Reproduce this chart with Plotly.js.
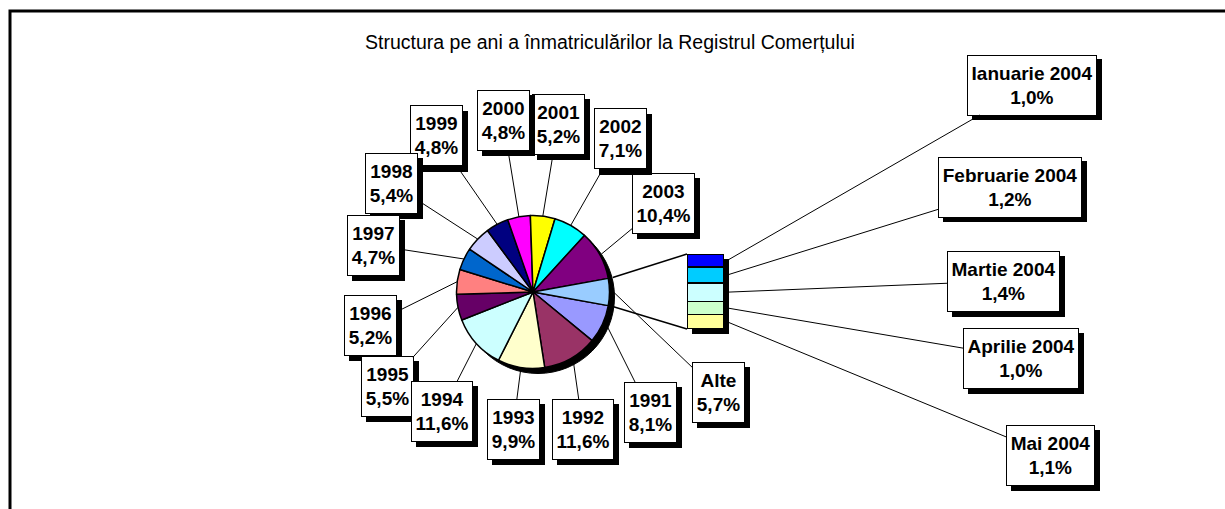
<!DOCTYPE html>
<html><head><meta charset="utf-8">
<script src="https://cdn.plot.ly/plotly-3.0.1.min.js"></script>
<style>html,body{margin:0;padding:0;background:#fff}#chart{width:1225px;height:509px}</style>
</head><body><div id="chart"></div>
<script>
// ---- data ----
const titleText = 'Structura pe ani a înmatriculărilor la Registrul Comerțului';
const years = ['1991','1992','1993','1994','1995','1996','1997','1998','1999','2000','2001','2002','2003'];
const yearShares = [8.1, 11.6, 9.9, 11.6, 5.5, 5.2, 4.7, 5.4, 4.8, 4.8, 5.2, 7.1, 10.4];
const otherLabel = 'Alte';
const months = ['Ianuarie 2004','Februarie 2004','Martie 2004','Aprilie 2004','Mai 2004'];
const monthShares = [1.0, 1.2, 1.4, 1.0, 1.1];
const pieColors = ['#9999FF','#993366','#FFFFCC','#CCFFFF','#660066','#FF8080','#0066CC','#CCCCFF','#000080','#FF00FF','#FFFF00','#00FFFF','#800080','#99CCFF'];
const barColors = ['#0000FF','#00CCFF','#CCFFFF','#CCFFCC','#FFFF99'];

// ---- layout geometry (pixels) ----
const W = 1225, H = 509;
const CX = 533, CY = 292, R = 76.5;
const BAR = {x0: 687, x1: 724, y0: 254, y1: 329};
const SH = 5;
const yearBoxes = [[650,412],[583,429],[513,429],[442,411],[387,386],[370,325],[373,245],[391,183],[436,136],[503,120],[558,124],[620,139],[663,203]];
const otherBox = [718,392];
const monthBoxes = [[1032,85],[1010,187],[1003,281],[1021,358],[1050,455]];
const FONT = 'Liberation Sans, Arial, sans-serif';
const FS = 19;

const px = x => x / W;
const py = y => 1 - y / H;
const fmt = v => v.toFixed(1).replace('.', ',') + '%';

const ctx = document.createElement('canvas').getContext('2d');
ctx.font = 'bold ' + FS + 'px "Liberation Sans", Arial, sans-serif';
const textW = lines => Math.max.apply(null, lines.map(l => ctx.measureText(l).width));

const otherTotal = Math.round(monthShares.reduce((a, b) => a + b, 0) * 10) / 10;
const pieValues = yearShares.concat([otherTotal]);
const pieLabels = years.concat([otherLabel]);
const total = pieValues.reduce((a, b) => a + b, 0);
const rotation = 90 + (otherTotal / total) * 180;

// slice angles (deg from 12 o'clock, clockwise)
const starts = [];
let acc = 0;
pieValues.forEach(v => { starts.push(rotation + acc / total * 360); acc += v; });
const mids = pieValues.map((v, i) => starts[i] + v / total * 180);

function piePoint(deg, extra) {
  const a = deg * Math.PI / 180;
  const s = Math.sin(a), c = -Math.cos(a);
  const ext = extra === undefined ? Math.max(0, SH * (s + c)) * 0.8 : extra;
  return [CX + (R + ext) * s, CY + (R + ext) * c];
}

const traces = [];
traces.push({
  type: 'pie', values: pieValues, labels: pieLabels, sort: false, direction: 'clockwise',
  rotation: rotation, textinfo: 'none', hoverinfo: 'none', showlegend: false,
  marker: {colors: pieColors, line: {color: '#000', width: 1.5}},
  domain: {x: [px(CX - R), px(CX + R)], y: [py(CY + R), py(CY - R)]}
});
for (let i = months.length - 1; i >= 0; i--) {
  traces.push({
    type: 'bar', x: ['2004'], y: [monthShares[i]], name: months[i],
    marker: {color: barColors[i], line: {color: '#000', width: 1.5}},
    hoverinfo: 'none', showlegend: false
  });
}

const shapes = [];
// outer frame
shapes.push({type: 'rect', xref: 'paper', yref: 'paper', x0: px(10), y0: py(11), x1: 1.1, y1: -0.1,
  line: {color: '#000', width: 3}, fillcolor: 'rgba(0,0,0,0)', layer: 'below'});
// pie shadow
shapes.push({type: 'circle', xref: 'paper', yref: 'paper', x0: px(CX - R + SH), x1: px(CX + R + SH),
  y0: py(CY + R + SH), y1: py(CY - R + SH), fillcolor: '#000', line: {color: '#000', width: 1}, layer: 'below'});
// bar shadow
shapes.push({type: 'rect', xref: 'paper', yref: 'paper', x0: px(BAR.x0 + SH), x1: px(BAR.x1 + SH),
  y0: py(BAR.y1 + SH), y1: py(BAR.y0 + SH), fillcolor: '#000', line: {width: 0}, layer: 'below'});
// connectors from "Alte" slice to bar
const oi = pieValues.length - 1;
const cTop = piePoint(starts[oi], 4.5);
const cBot = piePoint(starts[oi] + otherTotal / total * 360, 4.5);
shapes.push({type: 'line', xref: 'paper', yref: 'paper', x0: px(cTop[0]), y0: py(cTop[1]), x1: px(BAR.x0), y1: py(BAR.y0), line: {color: '#000', width: 1.5}});
shapes.push({type: 'line', xref: 'paper', yref: 'paper', x0: px(cBot[0]), y0: py(cBot[1]), x1: px(BAR.x0), y1: py(BAR.y1), line: {color: '#000', width: 1.5}});

const annotations = [];
function addLabel(l1, l2, box, tip) {
  const w = Math.ceil(textW([l1, l2])) + 1;
  const h = 53;
  const common = {xref: 'paper', yref: 'paper', align: 'center', valign: 'middle', width: w, height: h,
    font: {family: FONT, size: FS, color: '#000'}, borderpad: 3, borderwidth: 1};
  annotations.push(Object.assign({}, common, {text: '&nbsp;', x: px(box[0]), y: py(box[1]), showarrow: false,
    xanchor: 'center', yanchor: 'middle', xshift: SH, yshift: -SH, bgcolor: '#000', bordercolor: '#000'}));
  annotations.push(Object.assign({}, common, {text: '<b>' + l1 + '<br>' + l2 + '</b>',
    x: px(tip[0]), y: py(tip[1]), showarrow: true,
    arrowhead: 0, arrowwidth: 1, arrowcolor: '#000', standoff: 0, startstandoff: 0,
    axref: 'pixel', ayref: 'pixel', ax: box[0] - tip[0], ay: box[1] - tip[1],
    bgcolor: '#fff', bordercolor: '#000'}));
}
// month labels from bar segments
let cum = 0;
months.forEach((m, i) => {
  const ymid = BAR.y0 + (cum + monthShares[i] / 2) / otherTotal * (BAR.y1 - BAR.y0);
  cum += monthShares[i];
  addLabel(m, fmt(monthShares[i]), monthBoxes[i], [BAR.x1 + 3, ymid]);
});
addLabel(otherLabel, fmt(otherTotal), otherBox, piePoint(mids[oi]));
for (let i = years.length - 1; i >= 0; i--) {
  addLabel(years[i], fmt(yearShares[i]), yearBoxes[i], piePoint(mids[i]));
}

const layout = {
  width: W, height: H, margin: {l: 0, r: 0, t: 0, b: 0},
  paper_bgcolor: '#fff', plot_bgcolor: 'rgba(0,0,0,0)',
  title: {text: titleText, font: {family: FONT, size: 19.5, color: '#000'},
    x: px(610), xref: 'paper', xanchor: 'center', y: py(42), yref: 'container', yanchor: 'middle'},
  barmode: 'stack', bargap: 0,
  xaxis: {domain: [px(BAR.x0), px(BAR.x1)], range: [-0.5, 0.5], visible: false, fixedrange: true, type: 'category'},
  yaxis: {domain: [py(BAR.y1), py(BAR.y0)], range: [0, otherTotal], visible: false, fixedrange: true},
  shapes: shapes, annotations: annotations, showlegend: false
};
Plotly.newPlot('chart', traces, layout, {displayModeBar: false, staticPlot: true});
</script></body></html>
